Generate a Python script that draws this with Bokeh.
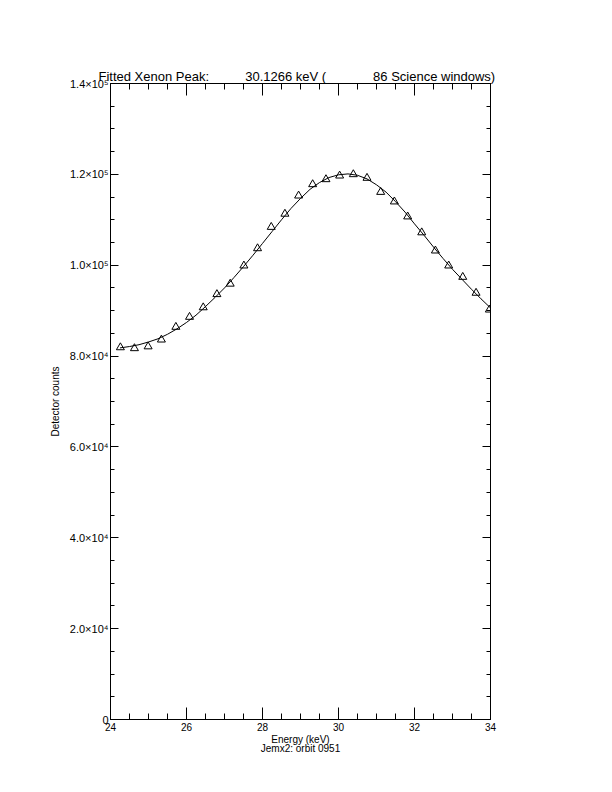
from bokeh.plotting import figure
from bokeh.models import Range1d, LinearAxis, SingleIntervalTicker
from bokeh.embed import file_html
from bokeh.resources import INLINE

# Measured data points (Energy keV, counts)
energy = [24.26, 24.63, 24.99, 25.34, 25.72, 26.08, 26.44, 26.80, 27.15, 27.51,
          27.87, 28.23, 28.59, 28.95, 29.32, 29.67, 30.03, 30.39, 30.75, 31.11,
          31.47, 31.82, 32.19, 32.55, 32.90, 33.27, 33.62, 33.97]
counts = [81900, 81700, 82100, 83600, 86400, 88600, 90700, 93600, 95900, 99900,
          103700, 108400, 111300, 115300, 117800, 118900, 119700, 120000, 119200, 116100,
          114000, 110700, 107200, 103200, 99900, 97400, 93900, 90200]

# Fitted curve
fit_energy = [24.25, 24.5, 24.75, 25.0, 25.25, 25.5, 25.75, 26.0, 26.25, 26.5,
              26.75, 27.0, 27.25, 27.5, 27.75, 28.0, 28.25, 28.5, 28.75, 29.0,
              29.25, 29.5, 29.75, 30.0, 30.25, 30.5, 30.75, 31.0, 31.25, 31.5,
              31.75, 32.0, 32.25, 32.5, 32.75, 33.0, 33.25, 33.5, 33.75, 34.0]
fit_counts = [81800, 82100, 82500, 83100, 83800, 84800, 86000, 87400, 89000, 90900,
              92900, 95000, 97300, 99700, 102200, 104800, 107400, 110000, 112500, 114700,
              116700, 118200, 119300, 119900, 120100, 119800, 119000, 117700, 116100, 114000,
              111700, 109100, 106600, 104000, 101500, 99100, 96900, 94700, 92600, 90600]

y_ticks = [0, 20000, 40000, 60000, 80000, 100000, 120000, 140000]
y_tick_labels = ["0", "2.0×10⁴", "4.0×10⁴", "6.0×10⁴", "8.0×10⁴", "1.0×10⁵", "1.2×10⁵", "1.4×10⁵"]

title_parts = ["Fitted Xenon Peak:", "30.1266 keV (", "86 Science windows)"]
x_label = "Energy (keV)"
sub_label = "Jemx2: orbit 0951"
y_label = "Detector counts"

FONT = "Liberation Sans"
NB = "\u00a0"

p = figure(width=596, height=776, output_backend="svg", toolbar_location=None,
           x_range=Range1d(24, 34), y_range=Range1d(0, 140000),
           min_border_left=110, min_border_right=106, min_border_top=83,
           min_border_bottom=57, x_axis_location=None, y_axis_location=None)
p.background_fill_color = "white"
p.border_fill_color = "white"
p.outline_line_color = "black"
p.xgrid.visible = False
p.ygrid.visible = False

p.title.text = title_parts[0] + NB * 10 + title_parts[1] + NB * 13 + title_parts[2]
p.title.align = "left"
p.title.offset = -12
p.title.text_font = FONT
p.title.text_font_size = "13px"
p.title.text_font_style = "normal"
p.title.text_color = "black"
p.title.standoff = 0


def style_axis(ax, major_len, minor_len, labels=True):
    ax.major_tick_in = major_len
    ax.major_tick_out = 0
    ax.minor_tick_in = minor_len
    ax.minor_tick_out = 0
    ax.axis_line_color = "black"
    ax.major_tick_line_color = "black"
    ax.minor_tick_line_color = "black"
    ax.major_label_text_font = FONT
    ax.major_label_text_font_size = "10px"
    ax.major_label_text_color = "black"
    ax.axis_label_text_font = FONT
    ax.axis_label_text_font_style = "normal"
    ax.axis_label_text_color = "black"
    if not labels:
        ax.major_label_text_font_size = "0px"
        ax.major_label_text_alpha = 0
        ax.major_label_standoff = 0


xt = SingleIntervalTicker(interval=2, num_minor_ticks=4)
yt = SingleIntervalTicker(interval=20000, num_minor_ticks=4)
overrides = {v: s for v, s in zip(y_ticks, y_tick_labels)}

xb = LinearAxis(ticker=xt, axis_label=x_label + "\n" + sub_label)
style_axis(xb, 12, 6)
xb.major_label_standoff = 3
xb.axis_label_standoff = 0
xb.axis_label_text_font_size = "10px"
xb.axis_label_text_line_height = 0.85
p.add_layout(xb, "below")

xa = LinearAxis(ticker=xt)
style_axis(xa, 12, 6, labels=False)
p.add_layout(xa, "above")

yl = LinearAxis(ticker=yt, axis_label=y_label, major_label_overrides=overrides)
style_axis(yl, 8, 4)
yl.major_label_text_font_size = "11px"
yl.major_label_standoff = 2
yl.axis_label_standoff = 6
yl.axis_label_text_font_size = "10px"
p.add_layout(yl, "left")

yr = LinearAxis(ticker=yt)
style_axis(yr, 8, 4, labels=False)
p.add_layout(yr, "right")

p.line(fit_energy, fit_counts, line_color="black", line_width=1)
p.scatter(energy, counts, marker="triangle", size=8, fill_color=None,
          line_color="black", line_width=1)

open("out.html", "w").write(file_html(p, INLINE))
